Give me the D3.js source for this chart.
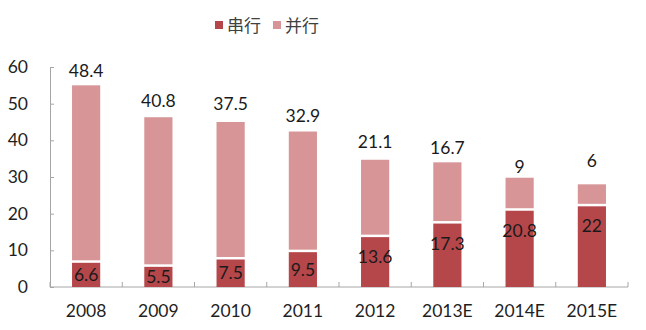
<!DOCTYPE html>
<html>
<head>
<meta charset="utf-8">
<script src="https://cdn.jsdelivr.net/npm/d3@7"></script>
<style>
  body { margin: 0; background: #fff; }
  svg text { font-family: Lato, "Noto Sans", sans-serif; }
</style>
</head>
<body>
<div id="chart"></div>
<script>
'use strict';

// data
var years = ['2008', '2009', '2010', '2011', '2012', '2013E', '2014E', '2015E']
var serial = [6.6, 5.5, 7.5, 9.5, 13.6, 17.3, 20.8, 22]      // 串行
var parallel = [48.4, 40.8, 37.5, 32.9, 21.1, 16.7, 9, 6]    // 并行
var seriesNames = ['串行', '并行']
var yTicks = [0, 10, 20, 30, 40, 50, 60]

// layout
var width = 646, height = 330
var padding = { left: 50, right: 18, top: 67, bottom: 43 }
var colors = ['#b5474b', '#d79597']
var topLabelGap = [8, 10, 12, 10, 12, 8, 5, 17] // excel labels were nudged by hand

var svg = d3.select('#chart').append('svg')
    .attr('width', width).attr('height', height)

var x = d3.scaleBand()
    .domain(years)
    .range([padding.left, width - padding.right])
    .paddingInner(0.61)
    .paddingOuter(0.305)

var y = d3.scaleLinear()
    .domain([0, 60])
    .range([height - padding.bottom, padding.top])

var rows = years.map(function(d, i) {
    return { year: d, s: serial[i], p: parallel[i], gap: topLabelGap[i] }
})

// y axis
var yAxis = svg.append('g')
    .attr('transform', 'translate(' + padding.left + ',0)')
    .call(d3.axisRight(y).tickValues(yTicks).tickSize(4).tickSizeOuter(0))
yAxis.select('.domain').attr('stroke', '#a6a6a6')
yAxis.selectAll('.tick line').attr('stroke', '#a6a6a6')
yAxis.selectAll('.tick text')
    .attr('x', -22).attr('text-anchor', 'end')
    .style('font-size', '17.5px').attr('fill', '#1f1f1f')

// x axis: ticks sit on category boundaries and point up
var xAxisG = svg.append('g')
    .attr('transform', 'translate(0,' + y(0) + ')')
xAxisG.append('line')
    .attr('x1', padding.left).attr('x2', width - padding.right)
    .attr('stroke', '#a6a6a6')
xAxisG.selectAll('.xt')
    .data(d3.range(years.length + 1))
    .enter().append('line')
    .attr('class', 'xt')
    .attr('x1', function(i) { return padding.left + i * x.step() })
    .attr('x2', function(i) { return padding.left + i * x.step() })
    .attr('y1', 0).attr('y2', -5)
    .attr('stroke', '#a6a6a6')
xAxisG.selectAll('.xl')
    .data(years)
    .enter().append('text')
    .attr('class', 'xl')
    .attr('x', function(d) { return x(d) + x.bandwidth() / 2 })
    .attr('y', 30)
    .attr('text-anchor', 'middle')
    .style('font-size', '17.5px')
    .attr('fill', '#1f1f1f')
    .text(function(d) { return d })

// bars
var bars = svg.selectAll('.bar').data(rows).enter().append('g').attr('class', 'bar')

bars.append('rect')
    .attr('x', function(d) { return x(d.year) })
    .attr('width', x.bandwidth())
    .attr('y', function(d) { return y(d.s) })
    .attr('height', function(d) { return y(0) - y(d.s) })
    .attr('fill', colors[0])

bars.append('rect')
    .attr('x', function(d) { return x(d.year) })
    .attr('width', x.bandwidth())
    .attr('y', function(d) { return y(d.s + d.p) })
    .attr('height', function(d) { return y(d.s) - y(d.s + d.p) - 2.5 })
    .attr('fill', colors[1])

// labels
bars.append('text')
    .attr('x', function(d) { return x(d.year) + x.bandwidth() / 2 })
    .attr('y', function(d) {
        var h = y(0) - y(d.s)
        return y(d.s) + Math.min(h / 2, 20)
    })
    .attr('dy', '0.35em')
    .attr('text-anchor', 'middle')
    .style('font-size', '17.5px')
    .attr('fill', '#1a1a1a')
    .text(function(d) { return d.s })

bars.append('text')
    .attr('x', function(d) { return x(d.year) + x.bandwidth() / 2 })
    .attr('y', function(d) { return y(d.s + d.p) - d.gap })
    .attr('text-anchor', 'middle')
    .style('font-size', '17.5px')
    .attr('fill', '#1a1a1a')
    .text(function(d) { return d.p })

// legend
var legend = svg.append('g').attr('transform', 'translate(215,0)')
var legendX = [0, 58]
seriesNames.forEach(function(name, i) {
    legend.append('rect')
        .attr('x', legendX[i]).attr('y', 21)
        .attr('width', 8).attr('height', 8)
        .attr('fill', colors[i])
    legend.append('text')
        .attr('x', legendX[i] + 12).attr('y', 31.5)
        .style('font-family', '"Noto Sans CJK SC", sans-serif')
        .style('font-size', '17px')
        .attr('fill', '#404040')
        .text(name)
})
</script>
</body>
</html>
